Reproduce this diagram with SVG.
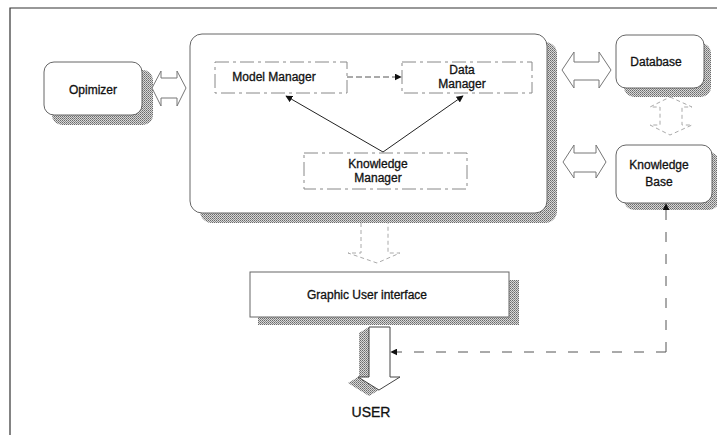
<svg xmlns="http://www.w3.org/2000/svg" width="717" height="435" viewBox="0 0 717 435">
  <defs>
    <pattern id="dither" width="2" height="2" patternUnits="userSpaceOnUse">
      <rect width="2" height="2" fill="#d8d8d8"/>
      <rect width="1" height="1" fill="#6a6a6a"/>
      <rect x="1" y="1" width="1" height="1" fill="#8a8a8a"/>
    </pattern>
    <marker id="ah" viewBox="0 0 10 10" refX="9" refY="5" markerWidth="7" markerHeight="7" orient="auto" markerUnits="userSpaceOnUse">
      <path d="M0,0 L10,5 L0,10 Z" fill="#111"/>
    </marker>
  </defs>
  <style>
    text { font-family: "Liberation Sans", Arial, sans-serif; font-size: 12px; fill: #111; stroke: #111; stroke-width: 0.3; text-anchor: middle; }
    .box { fill: #fff; stroke: #666; stroke-width: 1; }
    .inner { fill: #fff; stroke: #888; stroke-width: 1; stroke-dasharray: 14 4 3 4; }
    .shadow { fill: url(#dither); stroke: none; }
    .dbl { fill: #fff; stroke: #777; stroke-width: 1; }
    .faint { fill: #fff; stroke: #aaa; stroke-width: 1; stroke-dasharray: 4 3; }
    .solid { fill: none; stroke: #222; stroke-width: 1; }
    .dash { fill: none; stroke: #555; stroke-width: 1; stroke-dasharray: 6 3; }
    .ldash { fill: none; stroke: #555; stroke-width: 1; stroke-dasharray: 10 12; }
  </style>

  <rect width="717" height="435" fill="#fff"/>
  <!-- outer frame -->
  <path d="M10,435 L10,8 L717,8" fill="none" stroke="#333" stroke-width="1.2"/>

  <g id="optimizer">
    <rect class="shadow" x="52" y="70" width="101" height="55" rx="10"/>
    <rect class="box" x="44" y="62" width="98" height="53" rx="10"/>
    <text x="93" y="94">Opimizer</text>
  </g>

  <g id="main-system">
    <rect class="shadow" x="200" y="42" width="357" height="181" rx="12"/>
    <rect class="box" x="190" y="34" width="357" height="179" rx="12"/>
  </g>

  <g id="model-manager">
    <rect class="inner" x="215" y="62" width="132" height="31"/>
    <text x="274" y="81">Model Manager</text>
  </g>

  <g id="data-manager">
    <rect class="inner" x="402" y="62" width="130" height="31"/>
    <text x="462" y="74">Data</text>
    <text x="462" y="88">Manager</text>
  </g>

  <g id="knowledge-manager">
    <rect class="inner" x="304" y="153" width="163" height="36"/>
    <text x="378" y="168">Knowledge</text>
    <text x="378" y="182">Manager</text>
  </g>

  <g id="database">
    <rect class="shadow" x="624" y="43" width="87" height="54" rx="10"/>
    <rect class="box" x="616" y="35" width="88" height="53" rx="10"/>
    <text x="656" y="66">Database</text>
  </g>

  <g id="knowledge-base">
    <rect class="shadow" x="624" y="152" width="95" height="58" rx="10"/>
    <rect class="box" x="616" y="145" width="96" height="58" rx="10"/>
    <text x="659" y="169">Knowledge</text>
    <text x="659" y="186">Base</text>
  </g>

  <g id="gui">
    <rect class="shadow" x="258" y="280" width="261" height="45"/>
    <rect class="box" x="250" y="272" width="259" height="45"/>
    <text x="367" y="299">Graphic User interface</text>
  </g>

  <g id="user">
    <polygon class="shadow" points="369,327 359,333 359,383 369,377"/>
    <polygon class="shadow" points="358,377 379,390 369,396 348,383"/>
    <path d="M369,327 L390,327 L390,377 L400,377 L379,390 L358,377 L369,377 Z" fill="#fff" stroke="#444" stroke-width="1"/>
    <text x="371" y="417" style="font-size:14px">USER</text>
  </g>

  <g id="connectors">
    <!-- double arrows -->
    <path class="dbl" d="M152,88 L161,71 L161,78 L177,78 L177,71 L186,88 L177,106 L177,98 L161,98 L161,106 Z"/>
    <path class="dbl" d="M562,70 L574,52 L574,62 L599,62 L599,52 L611,70 L599,88 L599,80 L574,80 L574,88 Z"/>
    <path class="dbl" d="M563,162 L574,145 L574,153 L596,153 L596,145 L606,162 L596,178 L596,172 L574,172 L574,178 Z"/>
    <path class="faint" d="M670,97 L692,107 L682,107 L682,125 L692,125 L670,135 L650,125 L660,125 L660,107 L650,107 Z"/>
    <!-- main to GUI block arrow -->
    <path class="faint" d="M361,223 L361,253 L348,253 L377,263 L400,253 L388,253 L388,223"/>
    <!-- internal arrows -->
    <line class="dash" x1="347" y1="77" x2="401" y2="77" marker-end="url(#ah)"/>
    <line class="solid" x1="383" y1="152" x2="286" y2="96" marker-end="url(#ah)"/>
    <line class="solid" x1="383" y1="152" x2="463" y2="96" marker-end="url(#ah)"/>
    <!-- knowledge base feedback to user -->
    <line class="ldash" x1="666" y1="352" x2="666" y2="204" marker-end="url(#ah)"/>
    <line class="ldash" x1="666" y1="352" x2="391" y2="352" marker-end="url(#ah)"/>
  </g>
</svg>
